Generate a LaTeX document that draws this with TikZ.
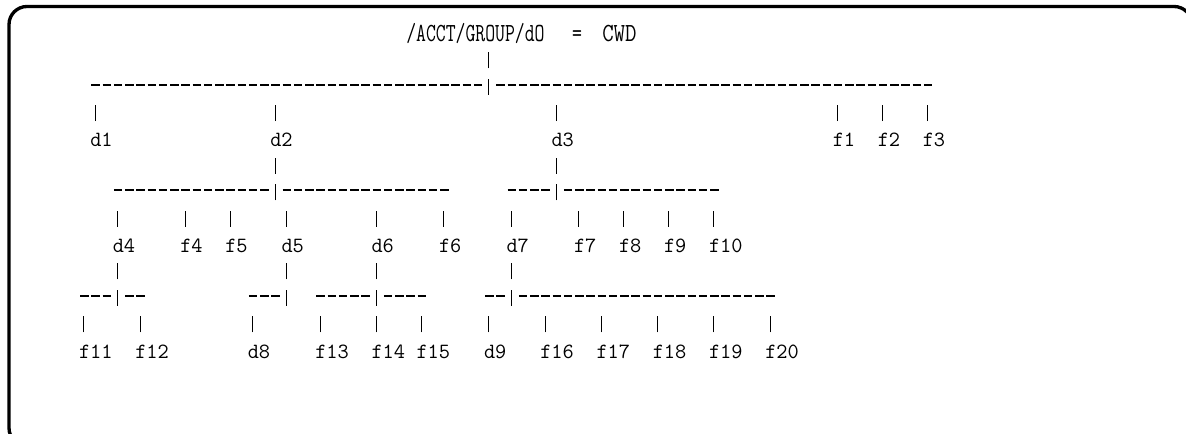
\documentclass[tikz,border=0pt]{standalone}
\usepackage{graphicx}
% character grid: cell #1 starts at x = 90 + 11.25*#1, text line #1 has its baseline at y
\newcommand\colx[1]{90+11.25*(#1)}
\newcommand\liney[1]{41.4+26.4*(#1)}
\tikzset{
  frame/.style={line width=2.5pt, rounded corners=13.5pt},
  tickbar/.style={line width=0.85pt},
  dashbar/.style={line width=1.5pt},
  lbl/.style={anchor=base west, inner sep=0pt, font=\fontsize{16.3}{19}\selectfont\ttfamily},
  hdr/.style={inner sep=0pt, font=\fontsize{19.6}{23}\selectfont\ttfamily},
}
% a vertical stroke in cell #1 of text line #2 (snapped to the pixel grid)
\newcommand\vstroke[2]{\draw[tickbar] ({floor(\colx{#1}+5)+0.5},{\liney{#2}+0.5}) -- ++(0,-16);}
% hyphens in cells #1..#2 of text line #3
\newcommand\hstrokes[3]{\foreach \c in {#1,...,#2}{\draw[dashbar] ({\colx{\c}+1.3},{floor(\liney{#3}-9)+0.5}) -- ++(8.6,0);}}
\begin{document}
\begin{tikzpicture}[x=0.75pt,y=-0.75pt]
\useasboundingbox (0,0) rectangle (1186,434);
\clip (0,0) rectangle (1186,434);
% outer frame
\draw[frame] (9,6.5) rectangle (1192,446);

% root line
\node[hdr, anchor=base west] (root) at (406,{\liney{0}}) {\scalebox{0.734}[1]{/ACCT/GROUP/dO}};
\node[hdr, anchor=base] (eq) at (577,{\liney{0}}) {\scalebox{0.734}[1]{=}};
\node[hdr, anchor=base west] (cwd) at (602,{\liney{0}}) {\scalebox{0.85}[1]{CWD}};

% line 1-3
\vstroke{35}{1}
\hstrokes{0}{34}{2} \vstroke{35}{2} \hstrokes{36}{74}{2}
\foreach \k in {0,16,41,66,70,74}{\vstroke{\k}{3}}

% line 4: first level
\node[lbl] (d1) at ({\colx{0}},{\liney{4}}) {d1};
\node[lbl] (d2) at ({\colx{16}},{\liney{4}}) {d2};
\node[lbl] (d3) at ({\colx{41}},{\liney{4}}) {d3};
\node[lbl] (f1) at ({\colx{66}},{\liney{4}}) {f1};
\node[lbl] (f2) at ({\colx{70}},{\liney{4}}) {f2};
\node[lbl] (f3) at ({\colx{74}},{\liney{4}}) {f3};

% line 5-7
\vstroke{16}{5} \vstroke{41}{5}
\hstrokes{2}{15}{6} \vstroke{16}{6} \hstrokes{17}{31}{6}
\hstrokes{37}{40}{6} \vstroke{41}{6} \hstrokes{42}{55}{6}
\foreach \k in {2,8,12,17,25,31,37,43,47,51,55}{\vstroke{\k}{7}}

% line 8: second level
\node[lbl] (d4) at ({\colx{2}},{\liney{8}}) {d4};
\node[lbl] (f4) at ({\colx{8}},{\liney{8}}) {f4};
\node[lbl] (f5) at ({\colx{12}},{\liney{8}}) {f5};
\node[lbl] (d5) at ({\colx{17}},{\liney{8}}) {d5};
\node[lbl] (d6) at ({\colx{25}},{\liney{8}}) {d6};
\node[lbl] (f6) at ({\colx{31}},{\liney{8}}) {f6};
\node[lbl] (d7) at ({\colx{37}},{\liney{8}}) {d7};
\node[lbl] (f7) at ({\colx{43}},{\liney{8}}) {f7};
\node[lbl] (f8) at ({\colx{47}},{\liney{8}}) {f8};
\node[lbl] (f9) at ({\colx{51}},{\liney{8}}) {f9};
\node[lbl] (f10) at ({\colx{55}},{\liney{8}}) {f10};

% line 9-11
\foreach \k in {2,17,25,37}{\vstroke{\k}{9}}
\hstrokes{-1}{1}{10} \vstroke{2}{10} \hstrokes{3}{4}{10}
\hstrokes{14}{16}{10} \vstroke{17}{10}
\hstrokes{20}{24}{10} \vstroke{25}{10} \hstrokes{26}{29}{10}
\hstrokes{35}{36}{10} \vstroke{37}{10} \hstrokes{38}{60}{10}
\foreach \k in {-1,4,14,20,25,29,35,40,45,50,55,60}{\vstroke{\k}{11}}

% line 12: third level
\node[lbl] (f11) at ({\colx{-1}},{\liney{12}}) {f11};
\node[lbl] (f12) at ({\colx{4}},{\liney{12}}) {f12};
\node[lbl] (d8) at ({\colx{14}},{\liney{12}}) {d8};
\node[lbl] (f13) at ({\colx{20}},{\liney{12}}) {f13};
\node[lbl] (f14) at ({\colx{25}},{\liney{12}}) {f14};
\node[lbl] (f15) at ({\colx{29}},{\liney{12}}) {f15};
\node[lbl] (d9) at ({\colx{35}},{\liney{12}}) {d9};
\node[lbl] (f16) at ({\colx{40}},{\liney{12}}) {f16};
\node[lbl] (f17) at ({\colx{45}},{\liney{12}}) {f17};
\node[lbl] (f18) at ({\colx{50}},{\liney{12}}) {f18};
\node[lbl] (f19) at ({\colx{55}},{\liney{12}}) {f19};
\node[lbl] (f20) at ({\colx{60}},{\liney{12}}) {f20};
\end{tikzpicture}
\end{document}
